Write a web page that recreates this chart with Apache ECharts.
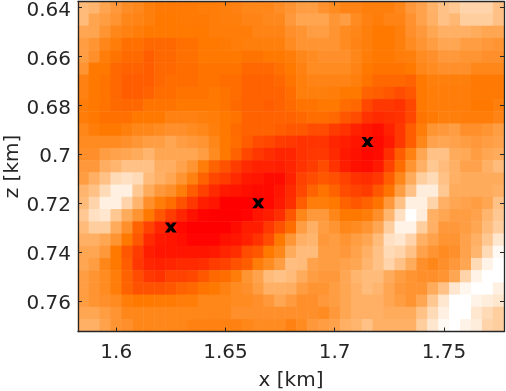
<!DOCTYPE html>
<html>
<head>
<meta charset="utf-8">
<style>html,body{margin:0;background:#fff}#chart{width:506px;height:391px}</style>
<script src="https://cdn.jsdelivr.net/npm/echarts@6/dist/echarts.min.js"></script>
</head>
<body>
<div id="chart"></div>
<script>
const xCells = ['1.585','1.59','1.595','1.6','1.605','1.61','1.615','1.62','1.625','1.63','1.635','1.64','1.645','1.65','1.655','1.66','1.665','1.67','1.675','1.68','1.685','1.69','1.695','1.7','1.705','1.71','1.715','1.72','1.725','1.73','1.735','1.74','1.745','1.75','1.755','1.76','1.765','1.77','1.775']
const zCells = ['0.64','0.645','0.65','0.655','0.66','0.665','0.67','0.675','0.68','0.685','0.69','0.695','0.7','0.705','0.71','0.715','0.72','0.725','0.73','0.735','0.74','0.745','0.75','0.755','0.76','0.765','0.77']
const xTicks = ['1.6','1.65','1.7','1.75']
const zTicks = ['0.64','0.66','0.68','0.7','0.72','0.74','0.76']
// one row per z cell, 0 = white, 50 = orange, 100 = red
const heat = [
  [22,24,31,36,41,43,47,49,49,49,49,48,48,47,46,44,44,44,41,38,34,34,39,42,45,45,47,47,47,44,36,32,25,20,18,14,14,14,20],
  [22,31,34,38,44,45,47,50,50,49,49,49,48,47,47,45,45,43,43,36,31,31,31,37,34,42,46,48,45,45,39,32,26,20,23,16,16,16,20],
  [30,31,38,44,46,48,50,50,50,50,50,50,48,48,48,48,45,45,45,40,38,34,34,38,42,44,47,50,50,47,40,36,30,26,26,26,28,30,30],
  [34,38,44,48,53,53,56,56,56,53,53,50,50,49,48,47,47,47,47,42,38,38,38,38,42,45,47,50,50,47,42,38,34,30,30,34,34,36,38],
  [34,40,48,52,55,55,60,56,56,53,53,50,50,50,50,52,52,50,50,48,44,42,40,40,40,44,48,50,50,48,47,42,40,36,36,38,38,40,40],
  [38,50,50,56,58,58,60,56,56,54,54,52,52,52,52,56,56,56,53,50,46,42,42,42,42,45,50,52,52,52,50,44,42,40,40,40,44,44,44],
  [46,50,52,56,60,60,60,56,54,54,54,52,52,54,54,58,58,58,56,52,47,45,45,45,45,47,52,56,56,56,58,50,47,47,47,47,49,49,49],
  [46,50,52,56,60,60,58,54,54,52,52,52,50,52,54,58,58,58,58,54,47,47,47,48,50,50,58,60,62,66,62,50,48,48,48,48,49,49,49],
  [48,50,52,55,56,56,52,52,52,50,50,50,50,52,55,58,58,60,58,55,52,52,50,50,54,56,68,74,74,76,68,50,48,48,48,48,50,50,47],
  [48,50,53,53,53,50,50,50,46,46,46,47,48,50,52,58,58,58,58,58,56,54,54,56,62,66,76,80,78,76,68,52,49,47,47,48,48,48,45],
  [44,48,50,50,47,44,44,42,40,40,42,44,47,50,55,58,58,58,60,62,62,66,66,72,76,84,90,93,84,74,60,48,38,36,34,40,40,38,34],
  [42,42,42,42,40,37,34,34,30,34,36,38,44,50,54,60,66,68,72,74,76,75,75,82,85,90,90,95,88,74,60,44,32,30,32,34,36,34,32],
  [40,40,34,32,30,28,24,30,30,30,30,34,42,50,58,68,74,78,82,82,76,74,74,80,88,92,96,94,78,60,46,30,20,20,28,29,34,30,28],
  [36,36,27,24,20,20,20,27,27,32,38,48,58,64,72,80,84,84,85,82,76,72,66,76,86,92,94,88,70,54,38,26,18,22,26,32,32,26,22],
  [34,26,20,12,10,12,22,26,30,38,46,58,68,72,80,88,90,94,94,84,70,66,62,65,70,76,78,74,60,44,28,16,12,20,26,28,28,28,28],
  [24,20,12,5,5,18,28,36,40,48,60,70,80,88,90,93,95,95,90,80,68,58,52,58,66,70,72,62,52,34,20,6,6,18,28,28,28,28,26],
  [22,14,5,5,14,24,40,48,54,64,74,85,90,100,100,100,100,96,88,78,60,48,48,50,58,62,58,52,36,20,5,5,14,26,30,32,34,30,20],
  [18,10,8,18,28,38,50,62,72,82,92,98,100,100,100,98,90,86,78,62,44,36,36,44,50,50,48,40,24,10,0,6,26,30,34,34,32,24,18],
  [22,16,16,28,40,58,70,82,90,96,100,100,100,100,94,86,86,74,64,54,34,26,34,38,44,42,38,30,16,4,4,16,26,36,36,34,30,22,16],
  [26,26,30,38,50,62,80,88,90,93,98,98,98,92,90,84,76,66,50,37,26,24,36,34,38,34,30,22,10,8,14,26,32,38,38,32,26,18,8],
  [30,30,36,50,62,72,86,90,90,90,90,90,88,82,78,66,62,50,44,28,22,22,34,34,36,32,26,20,12,14,20,32,38,42,40,32,24,12,2],
  [30,34,44,50,60,74,82,84,82,80,80,78,72,70,64,60,48,42,34,21,22,32,34,34,32,30,24,20,14,20,28,40,44,40,36,30,12,4,0],
  [34,38,42,48,58,66,74,76,70,70,68,62,56,54,48,38,32,22,20,22,28,34,36,36,30,24,22,22,28,34,38,40,40,38,30,14,4,0,0],
  [34,38,42,48,58,64,64,64,62,58,56,52,50,46,42,40,34,26,26,27,34,38,38,34,30,26,22,24,30,36,38,38,28,20,8,3,0,0,5],
  [34,38,40,42,48,50,50,49,49,48,48,44,44,44,42,42,40,36,30,35,40,40,36,34,30,26,26,26,30,34,38,30,18,8,0,0,4,6,8],
  [30,30,34,38,44,44,44,44,44,44,44,44,44,44,40,40,40,40,40,40,40,40,42,36,30,26,26,26,28,28,28,20,12,5,0,0,8,12,16],
  [26,26,32,38,40,44,44,44,44,44,46,46,46,46,46,44,42,42,42,46,42,36,34,32,26,24,20,26,26,26,26,16,8,2,0,4,6,14,16]
]
const markersX = ['1.625','1.665','1.715']
const markersZ = ['0.73','0.72','0.695']

const textColor = '#262626'
const font = 'DejaVu Sans'

const heatData = []
heat.forEach((row, r) => row.forEach((v, c) => heatData.push([c, r, v])))

const baseAxis = {
  type: 'category',
  z: 4,
  axisLine: { show: true, onZero: false, lineStyle: { color: textColor, width: 1.3 } },
  splitLine: { show: false },
  splitArea: { show: false }
}

function makeX(position, showLabel, name) {
  const onTick = (i, v) => xTicks.includes(v)
  return {
    ...baseAxis,
    position,
    data: xCells,
    name,
    nameLocation: 'middle',
    nameGap: 39,
    nameMoveOverlap: false,
    nameTextStyle: { color: textColor, fontSize: 20, fontFamily: font },
    axisTick: { show: true, inside: true, alignWithLabel: true, length: 4, interval: onTick, lineStyle: { color: textColor } },
    axisLabel: { show: showLabel, interval: onTick, color: textColor, fontSize: 20, fontFamily: font, margin: 11 }
  }
}

function makeZ(position, showLabel, name) {
  const onTick = (i, v) => zTicks.includes(v)
  return {
    ...baseAxis,
    position,
    inverse: true,
    data: zCells,
    name,
    nameLocation: 'middle',
    nameGap: 55,
    nameMoveOverlap: false,
    nameTextStyle: { color: textColor, fontSize: 20, fontFamily: font },
    axisTick: { show: true, inside: true, alignWithLabel: true, length: 4, interval: onTick, lineStyle: { color: textColor } },
    axisLabel: { show: showLabel, interval: onTick, color: textColor, fontSize: 20, fontFamily: font, margin: 7, verticalAlign: 'top', lineHeight: 6 }
  }
}

const chart = echarts.init(document.getElementById('chart'), null, { renderer: 'canvas' })
chart.setOption({
  animation: false,
  backgroundColor: '#fff',
  grid: { left: 78, right: 2, top: 1.5, bottom: 59.5, outerBoundsMode: 'none' },
  xAxis: [makeX('bottom', true, 'x [km]'), makeX('top', false, '')],
  yAxis: [makeZ('left', true, 'z [km]'), makeZ('right', false, '')],
  visualMap: {
    show: false,
    seriesIndex: 0,
    min: 0,
    max: 100,
    inRange: { color: ['#ffffff', '#ffb268', '#ff7800', '#ff3400', '#ff0000'] }
  },
  series: [
    {
      type: 'heatmap',
      data: heatData,
      progressive: 0,
      silent: true
    },
    {
      type: 'scatter',
      data: markersX.map((x, i) => [xCells.indexOf(x), zCells.indexOf(markersZ[i])]),
      symbol: 'path://M0 0L4 0L6 2.4L8 0L12 0L8.2 5L12 10L8 10L6 7.6L4 10L0 10L3.8 5Z',
      symbolSize: [12, 10],
      itemStyle: { color: '#000', opacity: 1 },
      silent: true,
      z: 5
    }
  ]
})
</script>
</body>
</html>
